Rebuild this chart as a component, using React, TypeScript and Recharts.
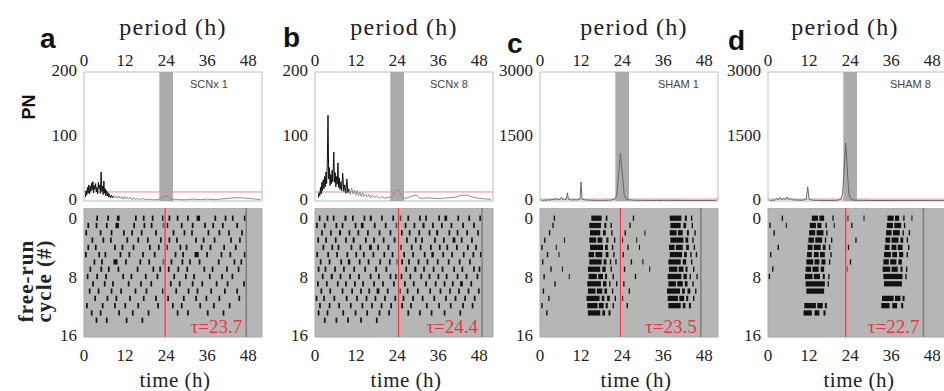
import {
  LineChart,
  ComposedChart,
  Line,
  Scatter,
  XAxis,
  YAxis,
  ReferenceArea,
  ReferenceLine,
} from 'recharts';

// ---- data ----------------------------------------------------------------

const periodTicks = [0, 12, 24, 36, 48];
const cycleTicks = [0, 8, 16];
const circadianBand = [22, 26];

const scnxPnTicks = [0, 100, 200];
const shamPnTicks = [0, 1500, 3000];

// periodogram points: [period (h), PN]
const scnx1Noise: [number, number][] = [
  [0.4, 6], [0.6, 16], [0.8, 9], [1.0, 21], [1.2, 12], [1.4, 25], [1.6, 11], [1.8, 23],
  [2.0, 15], [2.2, 28], [2.4, 17], [2.6, 30], [2.8, 13], [3.0, 24], [3.2, 18], [3.4, 27],
  [3.6, 14], [3.8, 21], [4.0, 11], [4.2, 29], [4.4, 19], [4.6, 25], [4.8, 12], [5.0, 45],
  [5.2, 15], [5.4, 23], [5.6, 10], [5.8, 31], [6.0, 12], [6.2, 19], [6.4, 8], [6.6, 16],
  [6.8, 8], [7.0, 13], [7.2, 6], [7.4, 11], [7.7, 5], [8.0, 9], [8.3, 5], [8.6, 8],
];
const scnx1Tail: [number, number][] = [
  [8.6, 8], [9.0, 5], [9.4, 8], [9.8, 4], [10.2, 8], [10.6, 4], [11.0, 7], [11.4, 3],
  [11.8, 7], [12.2, 3], [12.6, 6], [13.0, 3], [13.5, 6], [14.0, 2], [14.5, 5], [15.0, 2],
  [15.6, 4], [16.2, 2], [17.0, 4], [18.0, 2], [19.0, 3], [20.0, 2], [21.0, 2], [22.0, 3],
  [22.8, 6], [23.7, 8], [24.6, 6], [25.5, 2], [26.5, 3], [28, 2], [30, 2], [32, 3],
  [34, 2], [36, 3], [38, 2], [40, 3], [42, 4], [44, 5], [46, 5], [48, 4], [50, 3], [51.5, 2],
];

const scnx8Noise: [number, number][] = [
  [1.0, 5], [1.2, 13], [1.4, 8], [1.6, 21], [1.8, 11], [2.0, 29], [2.2, 16], [2.4, 33],
  [2.6, 19], [2.8, 38], [3.0, 22], [3.2, 45], [3.4, 27], [3.6, 60], [3.8, 133], [4.0, 34],
  [4.2, 52], [4.4, 24], [4.6, 41], [4.8, 27], [5.0, 48], [5.2, 30], [5.5, 76], [5.7, 29],
  [5.9, 44], [6.1, 22], [6.3, 38], [6.5, 26], [6.7, 59], [6.9, 21], [7.1, 36], [7.3, 18],
  [7.6, 30], [7.8, 16], [8.1, 43], [8.4, 15], [8.7, 25], [9.0, 12], [9.3, 34], [9.6, 13],
  [9.9, 19],
];
const scnx8Tail: [number, number][] = [
  [9.9, 19], [10.3, 10], [10.7, 20], [11.1, 11], [11.5, 17], [11.9, 9], [12.3, 16], [12.7, 8],
  [13.1, 14], [13.5, 7], [13.9, 13], [14.3, 7], [14.8, 11], [15.3, 6], [15.8, 10], [16.3, 5],
  [16.8, 9], [17.4, 5], [18.0, 8], [18.8, 4], [19.6, 7], [20.4, 4], [21.2, 6], [22.0, 5],
  [22.8, 9], [23.6, 17], [24.4, 18], [25.2, 8], [26.0, 4], [27.0, 5], [28.0, 7], [29.5, 9],
  [30.5, 5], [31.5, 4], [33, 5], [35, 4], [37, 4], [39, 5], [41, 6], [43, 9], [44.5, 9],
  [46, 6], [48, 4], [50, 3], [51.5, 3],
];

const sham1Pn: [number, number][] = [
  [0.5, 20], [1.0, 12], [1.5, 25], [2.0, 15], [2.5, 30], [3.0, 18], [3.5, 40], [4.0, 22],
  [4.4, 70], [4.8, 25], [5.3, 45], [5.8, 30], [6.3, 90], [6.7, 30], [7.2, 35], [7.7, 45],
  [8.0, 190], [8.3, 45], [8.8, 30], [9.4, 25], [10.0, 30], [10.6, 25], [11.2, 30], [11.7, 45],
  [12.0, 440], [12.3, 45], [12.9, 30], [13.6, 22], [14.4, 20], [15.2, 18], [16.0, 15], [17.0, 15],
  [18.0, 14], [19.0, 16], [20.0, 18], [21.0, 25], [21.8, 40], [22.4, 120], [23.5, 1110],
  [24.6, 140], [25.2, 45], [26.0, 25], [27, 20], [28, 16], [30, 15], [32, 13], [34, 12],
  [36, 14], [38, 15], [40, 13], [42, 12], [44, 11], [46, 10], [48, 10], [50, 9], [51.5, 8],
];

const sham8Pn: [number, number][] = [
  [0.5, 15], [1.0, 10], [1.5, 22], [2.0, 14], [2.5, 55], [3.0, 28], [3.5, 85], [4.0, 25],
  [4.5, 70], [5.0, 30], [5.5, 95], [6.0, 35], [6.5, 60], [7.0, 22], [7.6, 30], [8.2, 20],
  [9.0, 22], [9.8, 18], [10.6, 25], [11.2, 45], [11.6, 330], [12.0, 45], [12.6, 25], [13.4, 18],
  [14.4, 15], [15.5, 14], [16.5, 13], [18, 12], [19.5, 14], [20.5, 20], [21.3, 45], [21.8, 160],
  [22.7, 1350], [23.6, 170], [24.2, 45], [25, 22], [26, 16], [28, 14], [30, 12], [33, 11],
  [36, 11], [39, 10], [42, 10], [45, 9], [48, 9], [51.5, 8],
];

// free-running period (h) and significance level of each periodogram
const taus = [23.7, 24.4, 23.5, 22.7];
const pnThresholds = [14, 14, 45, 45];

// activity bouts per free-running cycle: [onset, offset] in hours of the cycle
const scnx1Bouts: [number, number][][] = [
  [[3.6, 4.1], [6.8, 7.3], [9.6, 10.4], [14.9, 15.4], [17.2, 17.7], [19.8, 20.3], [22.8, 23.3]],
  [[1.0, 1.5], [3.4, 3.9], [6.4, 6.9], [9.2, 10.2], [14.4, 14.9], [17.4, 17.9], [19.5, 20.0], [23.0, 23.5]],
  [[0.4, 0.9], [4.6, 5.1], [7.8, 8.3], [11.4, 11.9], [13.8, 14.3], [16.6, 17.1], [20.8, 21.3]],
  [[2.2, 2.7], [5.4, 5.9], [7.6, 8.1], [12.4, 12.9], [15.6, 16.1], [18.4, 18.9], [22.2, 22.7]],
  [[1.0, 1.5], [3.2, 3.7], [8.8, 9.3], [11.0, 11.5], [14.2, 14.7], [19.0, 19.5], [21.6, 22.1]],
  [[0.3, 0.8], [4.2, 4.7], [6.0, 6.5], [10.4, 10.9], [13.0, 13.5], [17.0, 17.5], [20.4, 20.9]],
  [[2.8, 3.3], [5.0, 5.5], [8.6, 9.8], [12.0, 12.5], [16.2, 16.7], [18.8, 19.3], [23.0, 23.5]],
  [[1.6, 2.1], [4.8, 5.3], [7.0, 7.5], [9.8, 10.3], [15.4, 15.9], [20.0, 20.5], [22.0, 22.5]],
  [[0.8, 1.3], [3.6, 4.1], [6.2, 6.7], [11.2, 11.7], [13.6, 14.1], [17.8, 18.3], [21.2, 21.7]],
  [[2.4, 2.9], [5.8, 6.3], [8.2, 8.7], [12.8, 13.3], [16.4, 16.9], [19.4, 19.9]],
  [[1.4, 1.9], [4.0, 4.5], [7.8, 8.3], [10.6, 11.1], [14.8, 15.3], [18.0, 18.5], [22.8, 23.3]],
  [[3.0, 3.5], [6.6, 7.1], [9.2, 9.7], [13.2, 13.7], [17.2, 17.7], [20.8, 21.3]],
  [[0.6, 1.1], [5.2, 5.7], [8.8, 9.3], [11.8, 12.3], [15.6, 16.1], [21.4, 21.9]],
  [[2.0, 2.5], [4.6, 5.1], [10.0, 10.5], [14.0, 14.5], [18.6, 19.1]],
  [[3.4, 3.9], [6.4, 6.9], [12.2, 12.7], [16.8, 17.3]],
];

const scnx8Bouts: [number, number][][] = [
  [[1.1, 1.6], [3.4, 3.9], [5.2, 5.7], [8.6, 9.2], [10.8, 11.3], [14.2, 14.7], [16.0, 16.6], [19.3, 19.8], [22.6, 23.1]],
  [[0.3, 0.8], [2.6, 3.1], [6.0, 6.5], [7.8, 8.3], [11.6, 12.1], [13.4, 14.2], [17.2, 17.7], [20.4, 20.9], [23.6, 24.1]],
  [[1.8, 2.3], [4.4, 4.9], [7.0, 7.6], [9.8, 10.3], [12.4, 12.9], [15.2, 15.7], [18.6, 19.1], [21.8, 22.3]],
  [[0.7, 1.2], [3.0, 3.5], [5.8, 6.3], [8.8, 9.3], [11.0, 11.6], [14.6, 15.1], [17.0, 17.5], [19.8, 20.3], [23.0, 23.5]],
  [[2.2, 2.7], [4.8, 5.3], [6.6, 7.1], [10.4, 10.9], [13.0, 13.5], [15.8, 16.6], [18.2, 18.7], [21.2, 21.7]],
  [[0.4, 0.9], [3.6, 4.1], [6.2, 6.7], [9.2, 9.7], [11.8, 12.3], [14.0, 14.5], [16.8, 17.3], [20.0, 20.5], [22.4, 22.9]],
  [[1.4, 1.9], [4.0, 4.5], [7.4, 7.9], [9.6, 10.3], [12.8, 13.3], [15.4, 15.9], [18.8, 19.3], [21.6, 22.1], [23.8, 24.3]],
  [[0.8, 1.3], [2.8, 3.3], [5.6, 6.1], [8.2, 8.7], [11.2, 11.7], [14.4, 14.9], [17.6, 18.1], [20.6, 21.1]],
  [[2.0, 2.5], [4.6, 5.2], [7.2, 7.7], [10.0, 10.5], [12.6, 13.1], [16.0, 16.5], [18.4, 18.9], [21.8, 22.3], [23.4, 23.9]],
  [[0.6, 1.1], [3.2, 3.7], [6.4, 6.9], [8.8, 9.3], [11.4, 11.9], [13.8, 14.3], [17.0, 17.5], [19.6, 20.1], [22.8, 23.3]],
  [[1.6, 2.1], [4.2, 4.7], [7.8, 8.3], [10.6, 11.1], [13.2, 13.7], [15.6, 16.1], [18.0, 18.8], [21.0, 21.5]],
  [[0.2, 0.7], [2.4, 2.9], [5.4, 5.9], [9.0, 9.5], [12.0, 12.5], [14.8, 15.3], [17.4, 17.9], [20.2, 20.7], [23.2, 23.7]],
  [[1.2, 1.7], [4.0, 4.5], [6.8, 7.3], [10.2, 10.7], [13.6, 14.1], [16.4, 16.9], [19.2, 19.7], [22.0, 22.5]],
  [[0.8, 1.3], [3.4, 3.9], [8.0, 8.5], [11.6, 12.1], [15.0, 15.5], [18.6, 19.1], [21.4, 21.9]],
  [[2.6, 3.1], [6.0, 6.5], [9.4, 9.9], [13.2, 13.7], [17.8, 18.3]],
];

const sham1Bouts: [number, number][][] = [
  [[4.0, 4.4], [15.0, 18.0], [19.2, 19.7]],
  [[3.6, 4.0], [14.4, 17.8], [18.8, 19.4], [20.6, 21.0]],
  [[2.6, 3.0], [14.6, 17.6], [18.4, 19.2], [20.8, 21.2]],
  [[1.2, 1.6], [7.0, 7.3], [14.4, 16.4], [16.8, 18.2], [19.4, 20.0], [21.6, 22.0]],
  [[0.4, 0.8], [4.6, 4.9], [14.6, 18.4], [19.0, 19.8], [21.0, 21.4]],
  [[2.0, 2.4], [5.4, 5.7], [14.2, 15.8], [16.2, 18.2], [19.2, 20.0], [21.4, 21.8]],
  [[0.6, 1.0], [14.4, 18.0], [18.6, 19.4], [20.4, 20.8], [22.0, 22.4]],
  [[3.0, 3.4], [6.4, 6.7], [14.0, 17.6], [18.2, 19.2], [20.6, 21.0]],
  [[1.0, 1.4], [8.4, 8.7], [14.2, 16.6], [17.0, 18.4], [19.0, 19.6], [21.2, 21.6]],
  [[4.2, 4.6], [13.8, 17.8], [18.4, 19.4], [20.2, 20.6], [22.2, 22.6]],
  [[0.8, 1.2], [14.0, 16.2], [16.6, 18.2], [18.8, 19.6], [21.0, 21.4]],
  [[2.4, 2.8], [13.6, 17.4], [18.0, 18.8], [19.6, 20.4], [21.8, 22.2]],
  [[0.4, 0.8], [13.8, 16.8], [17.2, 18.6], [19.2, 19.8], [21.2, 21.6]],
  [[1.8, 2.2], [14.0, 17.6], [18.2, 19.0], [20.0, 20.6]],
];

const sham8Bouts: [number, number][][] = [
  [[4.0, 4.4], [12.8, 14.6], [15.0, 16.4], [18.8, 19.2]],
  [[0.4, 0.8], [5.2, 5.5], [12.2, 14.0], [14.4, 15.6], [16.8, 17.2], [19.2, 19.5]],
  [[1.6, 2.0], [12.0, 13.8], [14.2, 16.2], [17.0, 17.4]],
  [[11.8, 13.4], [13.8, 15.8], [16.6, 17.0], [18.4, 18.8]],
  [[2.8, 3.2], [11.6, 13.0], [13.4, 15.4], [16.0, 16.8], [17.8, 18.2]],
  [[0.6, 1.0], [11.4, 12.8], [13.4, 14.8], [15.2, 16.6], [18.2, 18.6]],
  [[11.2, 13.2], [13.6, 15.0], [15.6, 16.8], [17.8, 18.2]],
  [[1.2, 1.6], [11.0, 12.6], [13.0, 14.8], [15.4, 16.4]],
  [[0.2, 0.6], [10.8, 13.0], [13.4, 15.2], [16.0, 16.6], [17.6, 18.0]],
  [[11.0, 16.6], [17.4, 17.8]],
  [[11.2, 16.4]],
  [],
  [[10.6, 14.0], [14.4, 16.0], [16.6, 17.2]],
  [[10.4, 12.8], [13.6, 15.0], [16.2, 16.8]],
];

// ---- layout --------------------------------------------------------------

const PLOT_W = 178;
const PLOT_H = 129;
const AXIS_W = 50;
const TOP_AXIS_H = 32;
const BOTTOM_AXIS_H = 40;
const PN_TOP = 72;
const ACTO_TOP = 208;
const X_DOMAIN: [number, number] = [0, 52];
const CYCLE_DOMAIN: [number, number] = [-1.4, 16.3];

const serif = 'Liberation Serif, DejaVu Serif, serif';
const sans = 'Liberation Sans, Arial, sans-serif';
const tickStyle = { fontFamily: serif, fontSize: 17, fill: '#222' };

const panels = [
  { letter: 'a', name: 'SCNx 1', left: 84, letterX: 40, letterY: 48, titleDx: 0, nameX: 190,
    pnMax: 200, pnTicks: scnxPnTicks, noise: scnx1Noise, tail: scnx1Tail, tailColor: '#8c8c8c',
    bouts: scnx1Bouts, tau: taus[0], thr: pnThresholds[0] },
  { letter: 'b', name: 'SCNx 8', left: 315, letterX: 283, letterY: 47, titleDx: 0, nameX: 430,
    pnMax: 200, pnTicks: scnxPnTicks, noise: scnx8Noise, tail: scnx8Tail, tailColor: '#8c8c8c',
    bouts: scnx8Bouts, tau: taus[1], thr: pnThresholds[1] },
  { letter: 'c', name: 'SHAM 1', left: 540, letterX: 507, letterY: 53, titleDx: 5, nameX: 658,
    pnMax: 3000, pnTicks: shamPnTicks, noise: [], tail: sham1Pn, tailColor: '#666',
    bouts: sham1Bouts, tau: taus[2], thr: pnThresholds[2] },
  { letter: 'd', name: 'SHAM 8', left: 768, letterX: 728, letterY: 50, titleDx: -12, nameX: 890,
    pnMax: 3000, pnTicks: shamPnTicks, noise: [], tail: sham8Pn, tailColor: '#666',
    bouts: sham8Bouts, tau: taus[3], thr: pnThresholds[3] },
];

type Panel = (typeof panels)[number];

const toPoints = (pts: [number, number][]) => pts.map(([period, pn]) => ({ period, pn }));

function Periodogram({ p }: { p: Panel }) {
  return (
    <div style={{ position: 'absolute', left: p.left - AXIS_W, top: PN_TOP - TOP_AXIS_H }}>
      <LineChart
        width={AXIS_W + PLOT_W + 2}
        height={TOP_AXIS_H + PLOT_H + 10}
        margin={{ top: 0, right: 2, bottom: 10, left: 0 }}
      >
        <XAxis
          dataKey="period"
          type="number"
          orientation="top"
          domain={X_DOMAIN}
          ticks={periodTicks}
          interval={0}
          height={TOP_AXIS_H}
          axisLine={false}
          tickLine={false}
          tickSize={0}
          tickMargin={6}
          tick={tickStyle}
          allowDataOverflow
        />
        <YAxis
          dataKey="pn"
          type="number"
          domain={[0, p.pnMax]}
          ticks={p.pnTicks}
          interval={0}
          width={AXIS_W}
          axisLine={false}
          tickLine={false}
          tickSize={0}
          tickMargin={7}
          tick={{ ...tickStyle, dy: -2 }}
          allowDataOverflow
        />
        <ReferenceArea x1={X_DOMAIN[0]} x2={X_DOMAIN[1]} y1={0} y2={p.pnMax}
          fill="#fff" fillOpacity={1} stroke="#bdbdbd" strokeWidth={1} />
        <ReferenceArea x1={circadianBand[0]} x2={circadianBand[1]} y1={0} y2={p.pnMax}
          fill="#ababab" fillOpacity={1} stroke="none" />
        <ReferenceLine y={p.thr} stroke="#e39090" strokeWidth={1} />
        <Line data={toPoints(p.tail)} dataKey="pn" type="linear" stroke={p.tailColor}
          strokeWidth={1} dot={false} activeDot={false} isAnimationActive={false} />
        {p.noise.length > 0 && (
          <Line data={toPoints(p.noise)} dataKey="pn" type="linear" stroke="#111"
            strokeWidth={1} dot={false} activeDot={false} isAnimationActive={false} />
        )}
      </LineChart>
    </div>
  );
}

// double plot: row r holds cycle r on [0, tau] and cycle r+1 on [tau, 2 tau]
function actogramMarks(bouts: [number, number][][], tau: number) {
  return bouts.flatMap((cycle, r) => {
    const next = bouts[r + 1] ?? [];
    return [
      ...cycle.map(([on, off]) => ({ row: r, on, off })),
      ...next.map(([on, off]) => ({ row: r, on: on + tau, off: off + tau })),
    ];
  });
}

// bouts are drawn as reference areas; the scatter only anchors the scales
const NoShape = () => <g />;

function Actogram({ p }: { p: Panel }) {
  const marks = actogramMarks(p.bouts, p.tau);
  return (
    <div style={{ position: 'absolute', left: p.left - AXIS_W, top: ACTO_TOP }}>
      <ComposedChart
        width={AXIS_W + PLOT_W + 2}
        height={PLOT_H + BOTTOM_AXIS_H}
        margin={{ top: 0, right: 2, bottom: 0, left: 0 }}
        data={marks}
      >
        <XAxis
          dataKey="on"
          type="number"
          domain={X_DOMAIN}
          ticks={periodTicks}
          interval={0}
          height={BOTTOM_AXIS_H}
          axisLine={false}
          tickLine={false}
          tickSize={0}
          tickMargin={12}
          tick={tickStyle}
          allowDataOverflow
        />
        <YAxis
          dataKey="row"
          type="number"
          reversed
          domain={CYCLE_DOMAIN}
          ticks={cycleTicks}
          interval={0}
          width={AXIS_W}
          axisLine={false}
          tickLine={false}
          tickSize={0}
          tickMargin={7}
          tick={tickStyle}
          allowDataOverflow
        />
        <ReferenceArea x1={X_DOMAIN[0]} x2={X_DOMAIN[1]} y1={CYCLE_DOMAIN[0]} y2={CYCLE_DOMAIN[1]}
          fill="#b6b6b6" fillOpacity={1} stroke="#a9a9a9" />
        {marks.map((m, i) => (
          <ReferenceArea key={i} x1={m.on} x2={m.off} y1={m.row - 0.36} y2={m.row + 0.36}
            fill="#111" fillOpacity={1} stroke="none" />
        ))}
        <ReferenceLine x={p.tau} stroke="#f0a0a8" strokeWidth={4} strokeOpacity={0.6} />
        <ReferenceLine x={p.tau} stroke="#d8404e" strokeWidth={1.2} />
        <ReferenceLine
          x={2 * p.tau}
          stroke="#7d7d7d"
          strokeWidth={1.5}
          label={{
            value: `τ=${p.tau}`,
            position: 'insideBottomRight',
            offset: 4,
            fill: '#e8383f',
            fontSize: 19,
            fontFamily: serif,
          }}
        />
        <Scatter dataKey="row" shape={NoShape} isAnimationActive={false} />
      </ComposedChart>
    </div>
  );
}

export default function App() {
  return (
    <div
      style={{
        position: 'fixed',
        left: 0,
        top: 0,
        width: 944,
        height: 391,
        overflow: 'hidden',
        background: '#fff',
      }}
    >
      {panels.map((p) => (
        <div key={p.letter}>
          <Periodogram p={p} />
          <Actogram p={p} />
        </div>
      ))}
      <svg
        width={944}
        height={391}
        style={{ position: 'absolute', left: 0, top: 0, pointerEvents: 'none' }}
      >
        {panels.map((p) => (
          <g key={p.letter}>
            <text x={p.letterX} y={p.letterY} fontFamily={sans} fontWeight="bold" fontSize={28} fill="#111">
              {p.letter}
            </text>
            <text x={p.left + PLOT_W / 2 + p.titleDx} y={35} textAnchor="middle"
              fontFamily={serif} fontSize={24} letterSpacing={1.2} fill="#222">
              period (h)
            </text>
            <text x={p.left + PLOT_W / 2 + 2 + Math.max(p.titleDx, 0)} y={387} textAnchor="middle"
              fontFamily={serif} fontSize={21} letterSpacing={0.5} fill="#222">
              time (h)
            </text>
            <text x={p.nameX} y={88} fontFamily={sans} fontSize={11} fill="#444">
              {p.name}
            </text>
          </g>
        ))}
        <text transform="translate(35,107) rotate(-90)" textAnchor="middle"
          fontFamily={sans} fontWeight="bold" fontSize={18} fill="#111">
          PN
        </text>
        <text transform="translate(33,281) rotate(-90)" textAnchor="middle"
          fontFamily={serif} fontWeight="bold" fontSize={21} letterSpacing={1} fill="#222">
          free-run
        </text>
        <text transform="translate(51,281) rotate(-90)" textAnchor="middle"
          fontFamily={serif} fontWeight="bold" fontSize={21} letterSpacing={1} fill="#222">
          cycle (#)
        </text>
      </svg>
    </div>
  );
}
